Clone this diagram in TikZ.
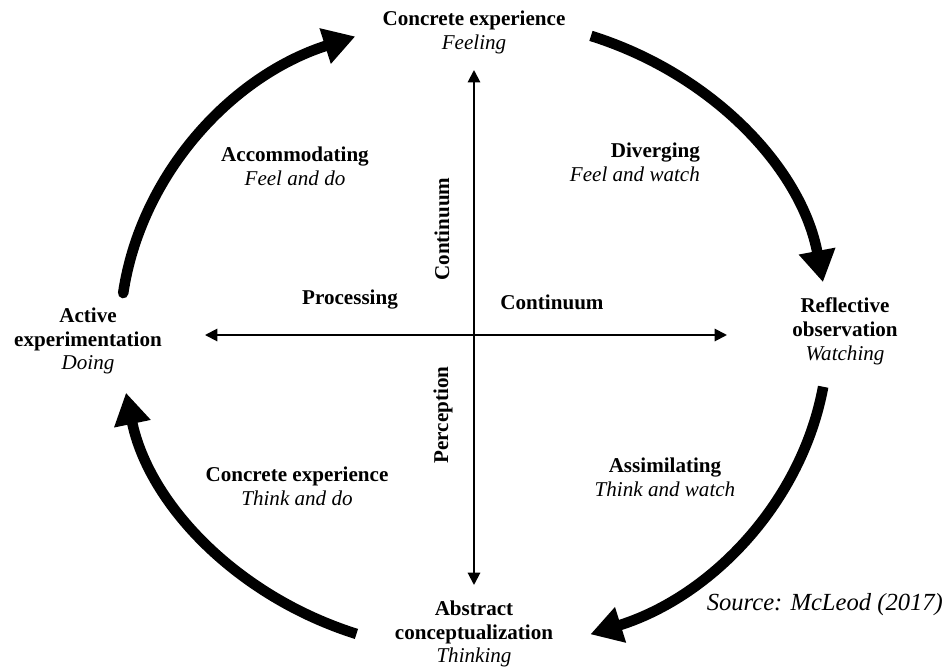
\documentclass[tikz,border=0pt]{standalone}
\usepackage{fontspec}
\setmainfont{Liberation Serif}
\usetikzlibrary{arrows.meta}

\begin{document}
\begin{tikzpicture}[x=0.02cm, y=0.02cm,
    stage/.style={align=center, inner sep=1pt, font=\fontsize{12}{13.6}\selectfont},
    axislabel/.style={inner sep=1pt, font=\fontsize{12}{13.6}\selectfont\bfseries},
    axis/.style={line width=1.1pt, {Triangle[length=7pt,width=7pt]}-{Triangle[length=7pt,width=7pt]}},
    cyclearrow/.style={line width=6pt, -{Triangle[length=18pt,width=20pt]}}]
    \useasboundingbox (-474,-332) rectangle (473,335);

    % the four stages
    \node(conc) [stage] at (0,303) {\textbf{Concrete experience}\\\textit{Feeling}};
    \node(refl) [stage] at (371,4) {\textbf{Reflective}\\\textbf{observation}\\\textit{Watching}};
    \node(abst) [stage] at (0,-299) {\textbf{Abstract}\\\textbf{conceptualization}\\\textit{Thinking}};
    \node(act) [stage] at (-386,-6) {\textbf{Active}\\\textbf{experimentation}\\\textit{Doing}};

    % learning styles
    \node(accom) [stage] at (-179,169) {\textbf{Accommodating}\\\textit{Feel and do}};
    \node(diverg) [stage, align=right, anchor=east] at (228,173) {\textbf{Diverging}\\\textit{Feel and watch}};
    \node(assim) [stage] at (191,-142) {\textbf{Assimilating}\\\textit{Think and watch}};
    \node(conv) [stage] at (-177,-151) {\textbf{Concrete experience}\\\textit{Think and do}};

    % axes
    \coordinate (ytop) at (0,265);
    \coordinate (ybot) at (0,-250);
    \coordinate (xleft) at (-269,0);
    \coordinate (xright) at (253,0);
    \draw[axis] (ybot) -- (ytop);
    \draw[axis] (xleft) -- (xright);
    \node(proc) [axislabel] at (-124,35) {Processing};
    \node(contx) [axislabel] at (78,33) {Continuum};
    \node(conty) [axislabel, rotate=90] at (-32,106) {Continuum};
    \node(perc) [axislabel, rotate=90] at (-31,-80) {Perception};

    % cycle
    \coordinate (s1) at (172.4:7.08cm and 6.34cm);
    \coordinate (s2) at (70.7:7.08cm and 6.34cm);
    \coordinate (s3) at (-9.4:7.08cm and 6.34cm);
    \coordinate (s4) at (-109.4:7.08cm and 6.34cm);
    \draw[cyclearrow, line cap=round] (s1) arc[start angle=172.4, end angle=109.6, x radius=7.08cm, y radius=6.34cm];
    \draw[cyclearrow] (s2) arc[start angle=70.7, end angle=9.6, x radius=7.08cm, y radius=6.34cm];
    \draw[cyclearrow] (s3) arc[start angle=-9.4, end angle=-70.8, x radius=7.08cm, y radius=6.34cm];
    \draw[cyclearrow] (s4) arc[start angle=-109.4, end angle=-169.5, x radius=7.08cm, y radius=6.34cm];

    \node(src) [anchor=east, inner sep=1pt, font=\fontsize{14}{16}\selectfont\itshape] at (471,-270) {Source: McLeod (2017)};
\end{tikzpicture}
\end{document}
